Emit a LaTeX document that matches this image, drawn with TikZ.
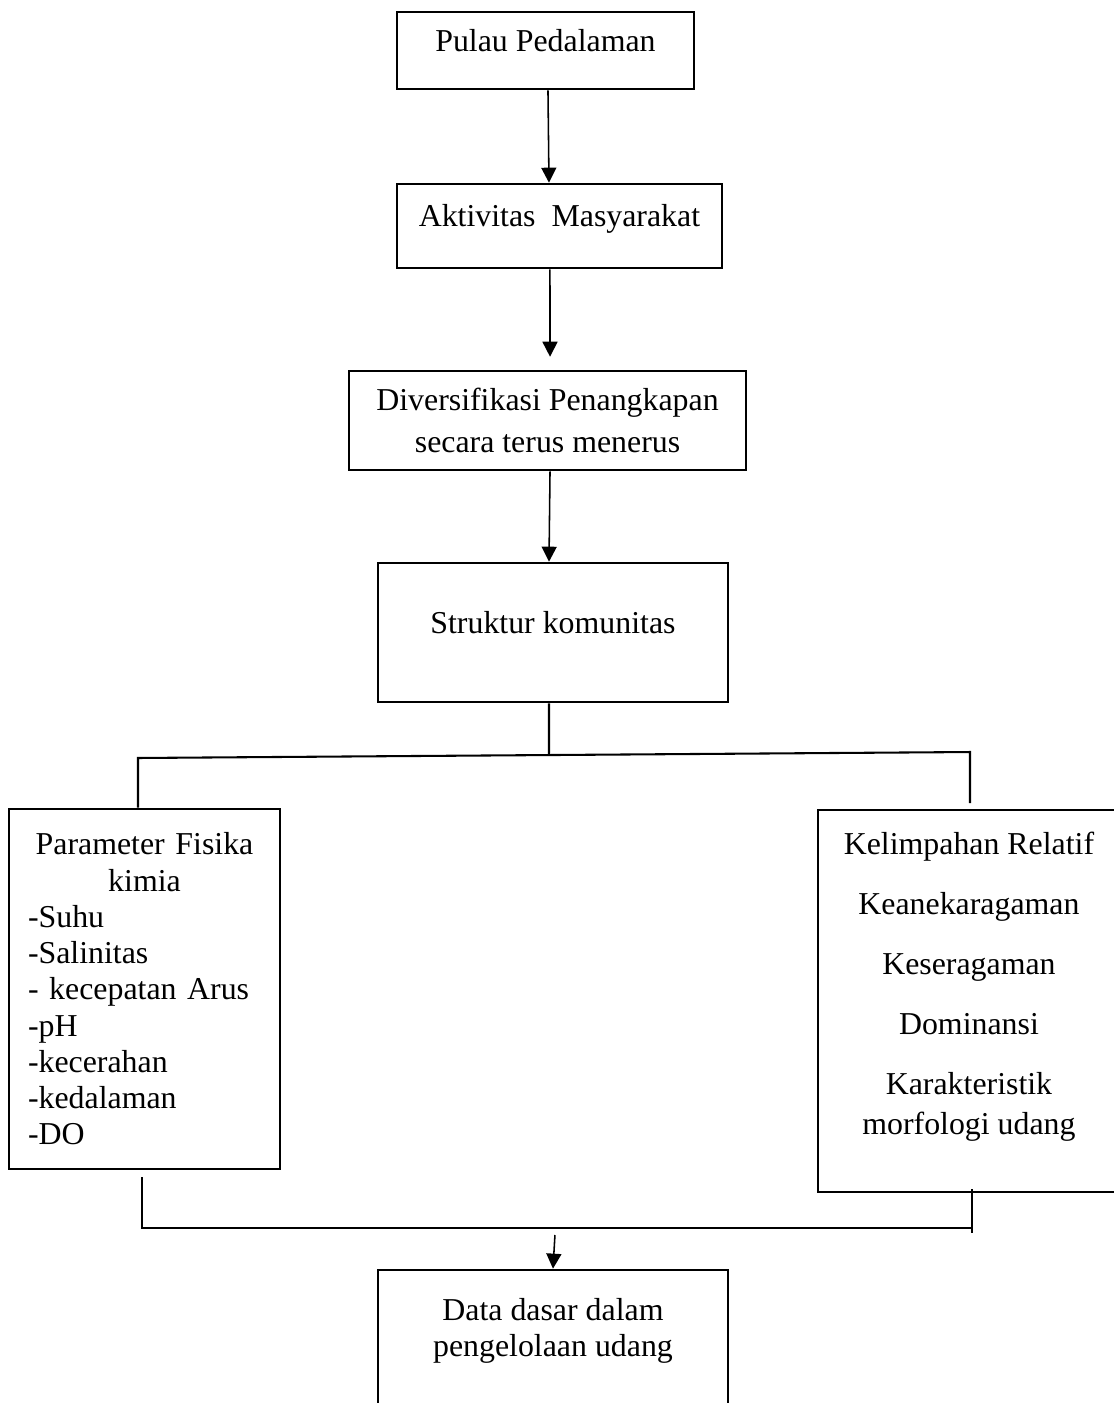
\documentclass[tikz,border=0pt]{standalone}
\usepackage{fontspec}
\setmainfont{Liberation Serif}
\usetikzlibrary{arrows.meta}

\begin{document}
\begin{tikzpicture}[
    font=\fontsize{12.3}{14}\selectfont,
    box/.style={draw, line width=1pt, align=center, inner sep=0pt},
    onebox/.style={box, text height=8pt, text depth=7.5pt},
    arrow/.style={line width=0.6pt, -{Triangle[length=5.8pt, width=5.8pt]}},
    tree/.style={line width=0.8pt}
]

% Page frame
\useasboundingbox (0,0) rectangle (15.117,-19.039);

% Main chain
\node[onebox, minimum width=4.030cm, minimum height=1.045cm] (pulau) at (7.402,-0.685) {Pulau Pedalaman};

\node[onebox, minimum width=4.410cm, minimum height=1.140cm] (aktivitas) at (7.592,-3.067) {Aktivitas~ Masyarakat};

\node[box, minimum width=5.387cm, minimum height=1.343cm] (diversifikasi) at (7.430,-5.706)
    {Diversifikasi Penangkapan\\[2.2pt]secara terus menerus};

\node[onebox, minimum width=4.750cm, minimum height=1.886cm] (struktur) at (7.504,-8.583) {Struktur komunitas};

% Two branches
\node[
draw,
line width=1pt,
align=left,
text width=3.162cm,
inner xsep=0.258cm,
inner ysep=0pt,
minimum height=4.885cm
] (fisika) at (1.961,-13.421)
    {{\centering Parameter Fisika\\kimia\par}
     -Suhu\\-Salinitas\\- kecepatan Arus\\-pH\\-kecerahan\\-kedalaman\\-DO};

\node[box, minimum width=4.098cm, minimum height=5.184cm] (relatif) at (13.149,-13.584)
    {Kelimpahan Relatif\\[9.2pt]Keanekaragaman\\[9.2pt]Keseragaman\\[9.2pt]Dominansi\\[9.2pt]Karakteristik\\[1.4pt]morfologi udang\\~};

% Result
\node[box, minimum width=4.750cm, minimum height=2.551cm] (data) at (7.504,-18.509)
    {Data dasar dalam\\pengelolaan udang\\~\\~};

% Arrows down the chain
\draw[arrow] ([xshift=0.034cm]pulau.south) -- ([xshift=-0.142cm]aktivitas.north);
\draw[arrow] ([xshift=-0.129cm]aktivitas.south) -- ([xshift=0.034cm, yshift=0.176cm]diversifikasi.north);
\draw[arrow] ([xshift=0.034cm]diversifikasi.south) -- ([xshift=-0.054cm]struktur.north);

% Split into the branches
\coordinate (split) at (7.450,-10.245);
\coordinate (hl) at (1.873,-10.286);
\coordinate (hr) at (13.163,-10.205);
\coordinate (rdrop) at (13.163,-10.897);
\draw[tree] ([xshift=-0.054cm]struktur.south) -- (split);
\draw[tree] (hl |- fisika.north) -- (hl) -- (hr) -- (rdrop);

% Join below the branches
\coordinate (lup) at (1.927,-15.972);
\coordinate (bl) at (1.927,-16.664);
\coordinate (br) at (13.190,-16.664);
\coordinate (rup) at (13.190,-16.135);
\coordinate (rdown) at (13.190,-16.732);
\coordinate (turun) at (7.531,-16.759);
\draw[tree] (lup) -- (bl) -- (br);
\draw[tree] (rup) -- (rdown);
\draw[arrow] (turun) -- (data.north);

\end{tikzpicture}
\end{document}
